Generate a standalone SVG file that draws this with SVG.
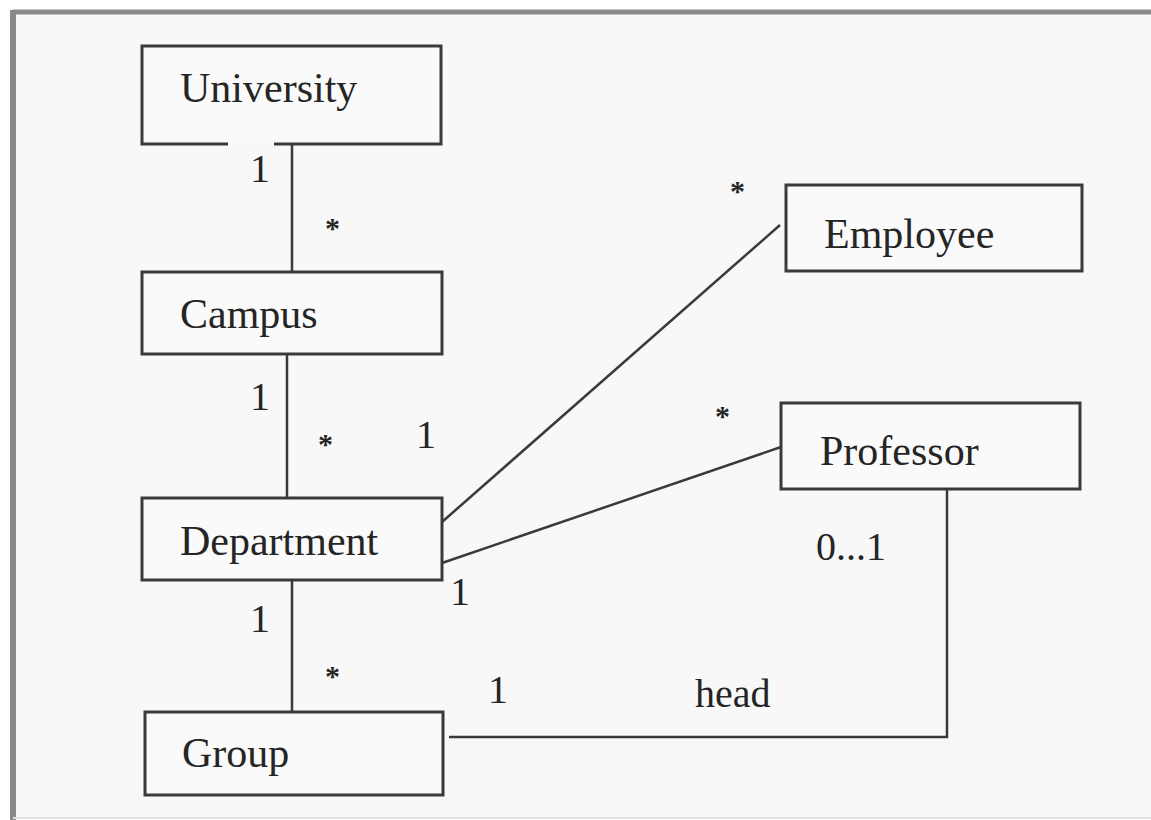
<svg xmlns="http://www.w3.org/2000/svg" width="1151" height="820" viewBox="0 0 1151 820">
<style>
.bg{fill:#f8f8f8}
.box{fill:#fafafa;stroke:#3a3a3a;stroke-width:3}
.edge{fill:none;stroke:#3a3a3a;stroke-width:2.5}
.name{font-family:'Liberation Serif','Times New Roman',Times,'DejaVu Serif',serif;font-size:42px;fill:#252525}
.lbl{font-family:'Liberation Serif','Times New Roman',Times,'DejaVu Serif',serif;font-size:40px;fill:#252525}
.ast{font-family:'Liberation Serif','Times New Roman',Times,'DejaVu Serif',serif;font-size:30px;font-weight:bold;fill:#252525}
</style>
<rect x="0" y="0" width="1151" height="820" fill="#ffffff"/>
<rect class="bg" x="13" y="12" width="1138" height="806"/>
<line x1="13" y1="12" x2="1151" y2="12" stroke="#8a8a8a" stroke-width="5"/>
<line x1="13" y1="10" x2="13" y2="820" stroke="#8a8a8a" stroke-width="6"/>
<line x1="13" y1="818" x2="1151" y2="818" stroke="#e2e2e2" stroke-width="2"/>
<g id="connectors">
<line class="edge" x1="292" y1="144" x2="292" y2="272"/>
<line class="edge" x1="287" y1="354" x2="287" y2="498"/>
<line class="edge" x1="292" y1="580" x2="292" y2="712"/>
<line class="edge" x1="442" y1="522" x2="780" y2="225"/>
<line class="edge" x1="442" y1="563" x2="781" y2="447"/>
<polyline class="edge" points="449,737 947,737 947,489"/>
</g>
<g id="labels">
<text class="lbl" x="250" y="182">1</text>
<text class="ast" x="325" y="238">*</text>
<text class="lbl" x="250" y="410">1</text>
<text class="ast" x="318" y="454">*</text>
<text class="lbl" x="416" y="448">1</text>
<text class="lbl" x="250" y="632">1</text>
<text class="ast" x="325" y="686">*</text>
<text class="lbl" x="450" y="605">1</text>
<text class="ast" x="730" y="201">*</text>
<text class="ast" x="715" y="426">*</text>
<text class="lbl" x="816" y="560">0...1</text>
<text class="lbl" x="488" y="703">1</text>
<text class="lbl" x="695" y="707">head</text>
</g>
<g id="university">
<path class="box" d="M228,144 H142 V46 H441 V144 H274"/>
<text class="name" x="180" y="102">University</text>
</g>
<g id="campus">
<rect class="box" x="142" y="272" width="300" height="82"/>
<text class="name" x="180" y="328">Campus</text>
</g>
<g id="department">
<rect class="box" x="142" y="498" width="300" height="82"/>
<text class="name" x="180" y="555">Department</text>
</g>
<g id="group">
<rect class="box" x="145" y="712" width="298" height="83"/>
<text class="name" x="182" y="767">Group</text>
</g>
<g id="employee">
<rect class="box" x="786" y="185" width="296" height="86"/>
<text class="name" x="824" y="248">Employee</text>
</g>
<g id="professor">
<rect class="box" x="781" y="403" width="299" height="86"/>
<text class="name" x="820" y="465">Professor</text>
</g>
</svg>
